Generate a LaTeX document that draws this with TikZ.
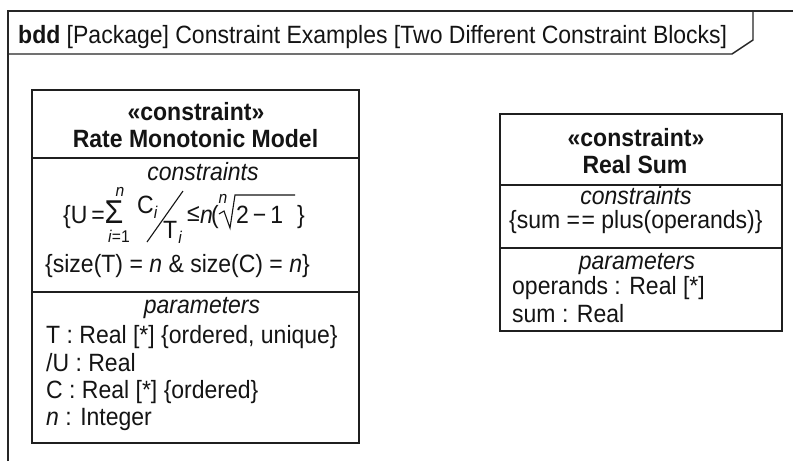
\documentclass[tikz,border=0pt]{standalone}
\usepackage{fontspec}
\setmainfont{Liberation Sans}[FakeStretch=0.92]
\newcommand\bodyfont{\fontsize{25}{28}\selectfont}
\newcommand\smallfont{\fontsize{17}{19}\selectfont}
\begin{document}
\begin{tikzpicture}[x=1pt,y=-1pt,
  frameline/.style={draw=black!85, line width=1.4pt},
  blockbox/.style={draw=black!88, line width=2pt, inner sep=0pt, fill=none},
  divider/.style={draw=black!88, line width=2pt},
  txt/.style={inner sep=0pt, anchor=base, font=\bodyfont, text=black!92},
  txtl/.style={txt, anchor=base west},
  sub/.style={inner sep=0pt, font=\smallfont, text=black!92},
  slashline/.style={draw=black!92, line width=1.1pt},
  rootline/.style={draw=black!92, line width=1.1pt, line join=miter}]
\useasboundingbox (0,0) rectangle (793,461);
\fill[white] (0,0) rectangle (793,461);

% frame
\coordinate (ftl) at (8,11);
\coordinate (ftr) at (793,11);
\coordinate (fbl) at (8,461);
\coordinate (tabA) at (8,54);
\coordinate (tabB) at (732,54);
\coordinate (tabC) at (753,40);
\coordinate (tabD) at (753,11);
\draw[frameline] (fbl) -- (ftl) -- (ftr);
\draw[frameline] (tabA) -- (tabB) -- (tabC) -- (tabD);
\node[txtl] (title) at (18,43) {\textbf{bdd} [Package] Constraint Examples [Two Different Constraint Blocks]};

% left block
\node[blockbox, minimum width=327pt, minimum height=353pt] (lb) at (195.5,266.5) {};
\coordinate (l1a) at (32,158); \coordinate (l1b) at (359,158);
\coordinate (l2a) at (32,292); \coordinate (l2b) at (359,292);
\draw[divider] (l1a) -- (l1b);
\draw[divider] (l2a) -- (l2b);
\node[txt] (lst) at (196,120) {\textbf{«constraint»}};
\node[txt] (lname) at (195.5,147) {\textbf{Rate Monotonic Model}};
\node[txt] (lcons) at (203,180) {\textit{constraints}};

% formula
\node[txtl] (fU) at (63,223) {\{U\hspace{4pt}=};
\node[inner sep=0pt, font=\fontsize{33}{34}\selectfont, text=black!92] (fsum) at (114,212.5) {Σ};
\node[sub, anchor=base] (fsumn) at (120,196) {\textit{n}};
\node[sub, anchor=base] (fsumi) at (119,242) {\textit{i}=1};
\node[txtl] (fC) at (137,213) {C\raisebox{-5pt}{\smallfont\textit{i}}};
\coordinate (sl1) at (147,242); \coordinate (sl2) at (183,191);
\draw[slashline] (sl1) -- (sl2);
\node[txtl] (fT) at (163,238) {T\raisebox{-5pt}{\smallfont\hspace{1pt}\textit{i}}};
\node[inner sep=0pt, font=\fontsize{25}{26}\selectfont, text=black!92] (fle) at (193.5,213.5) {≤};
\node[txtl] (fn) at (200,223) {\textit{n}};
\node[txtl] (fpar) at (211,223) {(};
\node[sub, anchor=base] (frn) at (223,203) {\textit{n}};
\coordinate (r1) at (219,214); \coordinate (r2) at (224,211);
\coordinate (r3) at (230,228); \coordinate (r4) at (235,195);
\coordinate (r5) at (295,195);
\draw[rootline] (r1) -- (r2) -- (r3) -- (r4) -- (r5);
\node[txtl] (frad) at (236,223) {2\hspace{4pt}−\hspace{4pt}1};
\node[txtl] (fcl) at (297,223) {\}};

\node[txtl] (lsize) at (45,272) {\{size(T) = \textit{n} \& size(C) = \textit{n}\}};
\node[txt] (lpar) at (202,313) {\textit{parameters}};
\node[txtl] (lp1) at (46,343) {T : Real [*] \{ordered, unique\}};
\node[txtl] (lp2) at (46,371) {/U : Real};
\node[txtl] (lp3) at (46,398) {C : Real [*] \{ordered\}};
\node[txtl] (lp4) at (46,425) {\textit{n} : Integer};

% right block
\node[blockbox, minimum width=282pt, minimum height=217pt] (rb) at (641,222.5) {};
\coordinate (r1a) at (500,185); \coordinate (r1b) at (782,185);
\coordinate (r2a) at (500,248); \coordinate (r2b) at (782,248);
\draw[divider] (r1a) -- (r1b);
\draw[divider] (r2a) -- (r2b);
\node[txt] (rst) at (636,146) {\textbf{«constraint»}};
\node[txt] (rname) at (635,173) {\textbf{Real Sum}};
\node[txt] (rcons) at (636,204) {\textit{constraints}};
\node[txtl] (rsum) at (509,228) {\{sum =\hspace{1.5pt}= plus(operands)\}};
\node[txt] (rpar) at (637,269) {\textit{parameters}};
\node[txtl] (rp1) at (512,294) {operands : Real [*]};
\node[txtl] (rp2) at (512,322) {sum : Real};
\end{tikzpicture}
\end{document}
